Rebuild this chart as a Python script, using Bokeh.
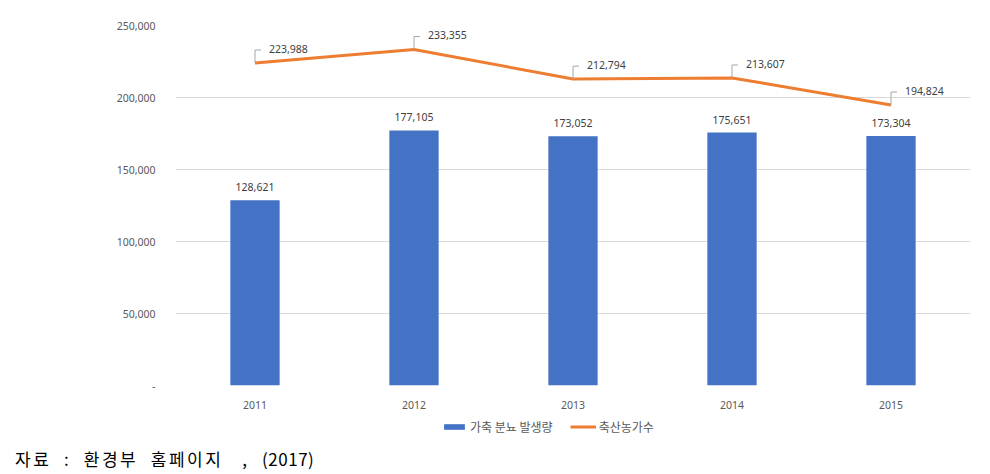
from bokeh.plotting import figure
from bokeh.models import (Range1d, FixedTicker, NumeralTickFormatter, Legend, LegendItem,
                          ColumnDataSource, Div)
from bokeh.layouts import column
from bokeh.embed import file_html
from bokeh.resources import INLINE

# ---- data ----
years = ["2011", "2012", "2013", "2014", "2015"]
manure = [128621, 177105, 173052, 175651, 173304]      # 가축 분뇨 발생량
farms = [223988, 233355, 212794, 213607, 194824]       # 축산농가수
y_ticks = [0, 50000, 100000, 150000, 200000, 250000]
series_names = ["가축 분뇨 발생량", "축산농가수"]
caption_kr = "자료  :  환경부  홈페이지   ,  "
caption_year = "(2017)"

BLUE = "#4472C4"
ORANGE = "#ED7D31"
GRAY_TXT = "#595959"
LBL_TXT = "#404040"
NUM_FONT = "Noto Sans"
KR_FONT = "Noto Sans CJK KR"

W, H = 982, 411
FL, FR, FT, FB = 175, 12, 25, 24
frame_w = W - FL - FR
frame_h = H - FT - FB

xs = list(range(1, len(years) + 1))
p = figure(width=W, height=H, output_backend="svg", toolbar_location=None,
           x_range=Range1d(0.5, len(years) + 0.5), y_range=Range1d(0, 250000),
           min_border_left=FL, min_border_right=FR, min_border_top=FT, min_border_bottom=FB)
p.outline_line_color = None

# grid / axes
p.xgrid.grid_line_color = None
p.ygrid.grid_line_color = "#d9d9d9"
p.ygrid.grid_line_width = 1
p.yaxis.ticker = FixedTicker(ticks=y_ticks)
p.yaxis.formatter = NumeralTickFormatter(format="0,0")
p.yaxis.major_label_overrides = {0: "-"}
p.xaxis.ticker = FixedTicker(ticks=xs)
p.xaxis.major_label_overrides = {x: y for x, y in zip(xs, years)}
for ax in (p.xaxis[0], p.yaxis[0]):
    ax.axis_line_color = None
    ax.major_tick_line_color = None
    ax.minor_tick_line_color = None
    ax.major_label_text_font = NUM_FONT
    ax.major_label_text_font_size = "10.5px"
    ax.major_label_text_color = GRAY_TXT
p.yaxis.major_label_standoff = 14
p.xaxis.major_label_standoff = 9

src = ColumnDataSource(dict(x=xs, manure=manure, farms=farms,
                            manure_lbl=[f"{v:,}" for v in manure],
                            farms_lbl=[f"{v:,}" for v in farms]))

p.vbar(x="x", top="manure", width=0.31, source=src, fill_color=BLUE, line_color=None)
p.line(x="x", y="farms", source=src, line_color=ORANGE, line_width=3)

# bar data labels
p.text(x="x", y="manure", text="manure_lbl", source=src, text_align="center",
       text_baseline="middle", y_offset=-13, text_font_size="10.5px",
       text_color=LBL_TXT, text_font={"value": NUM_FONT})

# line data labels with leader lines
px_y = 250000 / frame_h
px_x = len(years) / frame_w
lead_up = 13 * px_y
lead_right = 6 * px_x
p.multi_line(xs=[[x, x, x + lead_right] for x in xs],
             ys=[[v, v + lead_up, v + lead_up] for v in farms],
             line_color="#a6a6a6", line_width=1)
p.text(x="x", y="farms", text="farms_lbl", source=src, text_align="left",
       text_baseline="middle", x_offset=14, y_offset=-14, text_font_size="10.5px",
       text_color=LBL_TXT, text_font={"value": NUM_FONT})

# ---- legend strip (separate figure so it is not clipped) ----
LH = 34
lg = figure(width=W, height=LH, output_backend="svg", toolbar_location=None,
            x_axis_type=None, y_axis_type=None, x_range=Range1d(0, 1), y_range=Range1d(0, 1),
            min_border=0)
lg.outline_line_color = None
lg.xgrid.grid_line_color = None
lg.ygrid.grid_line_color = None
nan = float("nan")
r_bar = lg.vbar(x=[nan], top=[nan], width=0.1, fill_color=BLUE, line_color=None)
r_line = lg.line(x=[nan, nan], y=[nan, nan], line_color=ORANGE, line_width=3)
legend = Legend(items=[LegendItem(label=series_names[0], renderers=[r_bar]),
                       LegendItem(label=series_names[1], renderers=[r_line])],
                orientation="horizontal", location=(266, 10),
                padding=0, margin=0, spacing=17, label_standoff=3,
                glyph_width=26, glyph_height=7, label_height=14,
                label_text_font=KR_FONT, label_text_font_size="12px",
                label_text_color=GRAY_TXT, border_line_color=None,
                background_fill_alpha=0)
lg.add_layout(legend, "center")

cap = Div(text=caption_kr + f'<span style="letter-spacing:0.5px">{caption_year}</span>',
          margin=(3, 0, 0, 15),
          styles={"font-family": KR_FONT, "font-size": "17px", "color": "#000000",
                  "white-space": "pre", "line-height": "22px", "letter-spacing": "2.5px"})

open("out.html", "w").write(file_html(column(p, lg, cap, spacing=0), INLINE))
